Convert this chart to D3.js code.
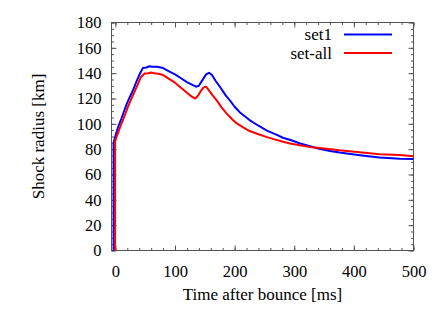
<!DOCTYPE html>
<html>
<head>
<meta charset="utf-8">
<script src="https://cdn.jsdelivr.net/npm/d3@7"></script>
</head>
<body style="margin:0">
<svg id="chart" width="442" height="309"></svg>
<script>
// shock radius [km] vs time after bounce [ms]
const set1Time = [-3, -3, 1, 5, 10, 18, 25, 30, 35, 40, 46, 52, 57, 62, 70, 80, 90, 100, 110, 120, 130, 135, 140, 146, 152, 157, 162, 168, 175, 185, 192, 200, 210, 225, 240, 255, 270, 281, 295, 310, 325, 340, 360, 376, 410, 443, 477, 500];
const set1Radius = [0, 85, 92, 98, 104, 114.5, 122, 127, 133, 138.5, 144, 144.5, 145.5, 145, 145, 144, 141.5, 139, 136, 133, 130.5, 129.3, 130, 134.5, 139, 140.3, 138.5, 134, 129.5, 122.5, 118.5, 113.5, 108.5, 103, 98.5, 94.5, 91.5, 89, 87, 84.5, 82.5, 80.5, 78.5, 77.3, 75.2, 73.5, 72.4, 72.2];

const setAllTime = [-0.5, -0.5, 2, 4, 8, 12.6, 21, 26, 32, 38, 43, 49, 55, 60, 65, 72, 80, 90, 100, 110, 120, 128, 134, 139, 144, 148, 152, 156, 162, 170, 178, 186, 195, 203, 215, 225, 240, 253, 267, 281, 295, 309, 325, 343, 376, 410, 443, 477, 500];
const setAllRadius = [0, 86, 90, 92.3, 97.5, 103, 113.4, 119, 125.3, 131.5, 137, 139.8, 140, 140.5, 140, 139.5, 138.5, 135.5, 132.5, 128.5, 124.5, 121.5, 120, 122.5, 126.5, 128.8, 129.3, 127, 123, 118.5, 113, 108.5, 104, 100.5, 97, 94.3, 91.8, 89.7, 87.7, 85.8, 84.3, 83.1, 81.8, 81, 79.1, 77.5, 76, 75.3, 74.4];

const xTicks = [0, 100, 200, 300, 400, 500];
const yTicks = [0, 20, 40, 60, 80, 100, 120, 140, 160, 180];
const seriesNames = ['set1', 'set-all'];
const seriesColors = ['#0000ff', '#ff0000'];

const plotLeft = 111.5, plotRight = 413.5, plotTop = 22.5, plotBottom = 250.5;
const serifFont = 'Times New Roman';

const svg = d3.select('#chart');

const x = d3.scaleLinear().domain([-6.5, 500]).range([plotLeft, plotRight]);
const y = d3.scaleLinear().domain([0, 180]).range([plotBottom, plotTop]);

const series = [
    set1Time.map((t, i) => [t, set1Radius[i]]),
    setAllTime.map((t, i) => [t, setAllRadius[i]])
];

// minor ticks (inward, all four sides)
const xMinor = d3.range(0, 501, 20);
const yMinor = d3.range(0, 181, 5);
const tickColor = '#555';

const addAxis = (axis, tx, ty) => {
    const g = svg.append('g')
        .attr('transform', `translate(${tx},${ty})`)
        .call(axis)
        .attr('font-family', serifFont)
        .attr('font-size', 16.5);
    g.select('.domain').remove();
    g.selectAll('line').attr('stroke', tickColor);
    g.selectAll('text').attr('fill', '#000');
    return g;
};

addAxis(d3.axisBottom(x).tickValues(xMinor).tickSize(-2.5).tickFormat(''), 0, plotBottom);
addAxis(d3.axisTop(x).tickValues(xMinor).tickSize(-2.5).tickFormat(''), 0, plotTop);
addAxis(d3.axisLeft(y).tickValues(yMinor).tickSize(-2.5).tickFormat(''), plotLeft, 0);
addAxis(d3.axisRight(y).tickValues(yMinor).tickSize(-2.5).tickFormat(''), plotRight, 0);

// major ticks with labels
addAxis(d3.axisBottom(x).tickValues(xTicks).tickSize(-5).tickPadding(15), 0, plotBottom);
addAxis(d3.axisLeft(y).tickValues(yTicks).tickSize(-5).tickPadding(10), plotLeft, 0);
addAxis(d3.axisTop(x).tickValues(xTicks).tickSize(-5).tickFormat(''), 0, plotTop);
addAxis(d3.axisRight(y).tickValues(yTicks).tickSize(-5).tickFormat(''), plotRight, 0);

// border
svg.append('rect')
    .attr('x', plotLeft)
    .attr('y', plotTop)
    .attr('width', plotRight - plotLeft)
    .attr('height', plotBottom - plotTop)
    .attr('fill', 'none')
    .attr('stroke', tickColor)
    .attr('stroke-width', 1);

// curves
const line = d3.line()
    .x(d => x(d[0]))
    .y(d => y(d[1]));

svg.append('g')
    .selectAll('path')
    .data(series)
    .join('path')
    .attr('d', line)
    .attr('fill', 'none')
    .attr('stroke', (d, i) => seriesColors[i])
    .attr('stroke-width', 2)
    .attr('stroke-linejoin', 'round');

// legend
seriesNames.forEach((name, i) => {
    const ly = 34.5 + i * 18.5;
    svg.append('text')
        .attr('x', 332)
        .attr('y', ly + 5.5)
        .attr('text-anchor', 'end')
        .attr('font-family', serifFont)
        .attr('font-size', 17)
        .text(name);
    svg.append('line')
        .attr('x1', 344)
        .attr('x2', 392)
        .attr('y1', ly)
        .attr('y2', ly)
        .attr('stroke', seriesColors[i])
        .attr('stroke-width', 2);
});

// axis titles
svg.append('text')
    .attr('x', (plotLeft + plotRight) / 2)
    .attr('y', 300)
    .attr('text-anchor', 'middle')
    .attr('font-family', serifFont)
    .attr('font-size', 17)
    .text('Time after bounce [ms]');

svg.append('text')
    .attr('transform', `translate(44,${(plotTop + plotBottom) / 2}) rotate(-90)`)
    .attr('text-anchor', 'middle')
    .attr('font-family', serifFont)
    .attr('font-size', 17)
    .text('Shock radius [km]');
</script>
</body>
</html>
